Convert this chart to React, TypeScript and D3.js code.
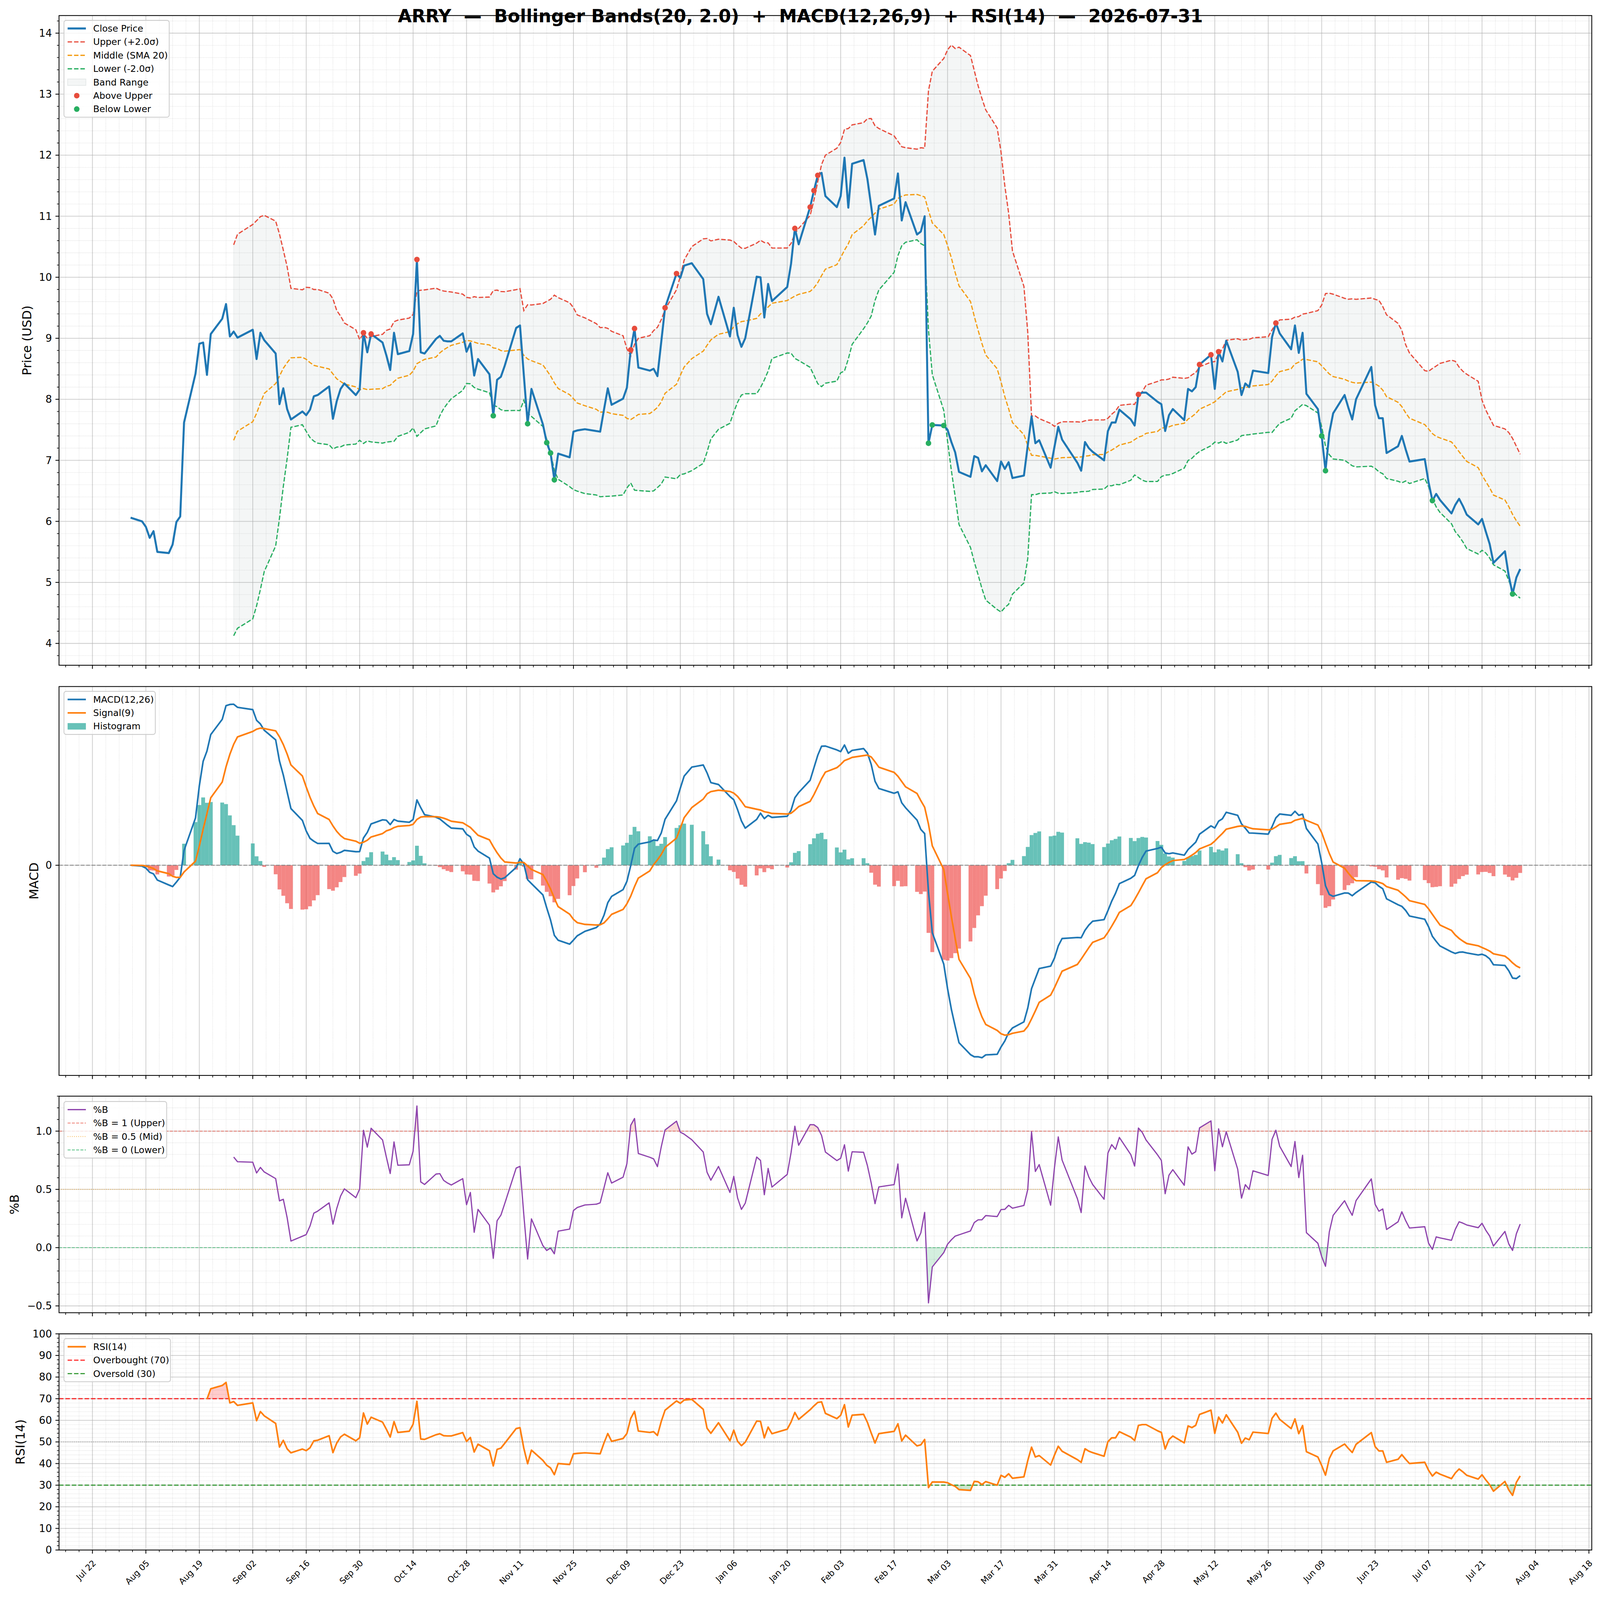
import React from 'react';
import * as d3 from 'd3';

// ---------------- data ----------------
const TICKER = 'ARRY';
const REPORT_DATE = '2026-07-31';

const MONTHS = ['2025-08', '2025-09', '2025-10', '2025-11', '2025-12', '2026-01', '2026-02', '2026-03', '2026-04', '2026-05', '2026-06', '2026-07'];

const TRADING_DAYS = [
  [1, 4, 5, 6, 7, 8, 11, 12, 13, 14, 15, 18, 19, 20, 21, 22, 25, 26, 27, 28, 29],
  [2, 3, 4, 5, 8, 9, 10, 11, 12, 15, 16, 17, 18, 19, 22, 23, 24, 25, 26, 29, 30],
  [1, 2, 3, 6, 7, 8, 9, 10, 13, 14, 15, 16, 17, 20, 21, 22, 23, 24, 27, 28, 29, 30, 31],
  [3, 4, 5, 6, 7, 10, 11, 12, 13, 14, 17, 18, 19, 20, 21, 24, 25, 26, 28],
  [1, 2, 3, 4, 5, 8, 9, 10, 11, 12, 15, 16, 17, 18, 19, 22, 23, 24, 26, 29, 30, 31],
  [2, 5, 6, 7, 8, 9, 12, 13, 14, 15, 16, 20, 21, 22, 23, 26, 27, 28, 29, 30],
  [2, 3, 4, 5, 6, 9, 10, 11, 12, 13, 17, 18, 19, 20, 23, 24, 25, 26, 27],
  [2, 3, 4, 5, 6, 9, 10, 11, 12, 13, 16, 17, 18, 19, 20, 23, 24, 25, 26, 27, 30, 31],
  [1, 2, 6, 7, 8, 9, 10, 13, 14, 15, 16, 17, 20, 21, 22, 23, 24, 27, 28, 29, 30],
  [1, 4, 5, 6, 7, 8, 11, 12, 13, 14, 15, 18, 19, 20, 21, 22, 26, 27, 28, 29],
  [1, 2, 3, 4, 5, 8, 9, 10, 11, 12, 15, 16, 17, 18, 22, 23, 24, 25, 26, 29, 30],
  [1, 2, 6, 7, 8, 9, 10, 13, 14, 15, 16, 17, 20, 21, 22, 23, 24, 27, 28, 29, 30, 31],
];

const CLOSE = [
  [6.06, 6.00, 5.91, 5.73, 5.84, 5.50, 5.48, 5.62, 5.99, 6.08, 7.62, 8.42, 8.91, 8.93, 8.40, 9.07, 9.32, 9.56, 9.03, 9.11, 9.01],
  [9.14, 8.66, 9.09, 8.97, 8.75, 7.92, 8.18, 7.84, 7.67, 7.80, 7.74, 7.83, 8.05, 8.07, 8.21, 7.68, 7.97, 8.17, 8.26, 8.07, 8.16],
  [9.09, 8.77, 9.07, 8.93, 8.72, 8.48, 9.09, 8.74, 8.79, 9.07, 10.29, 8.77, 8.75, 8.99, 9.04, 8.96, 8.95, 8.95, 9.08, 8.78, 8.92, 8.39, 8.66],
  [8.41, 7.73, 8.32, 8.37, 8.55, 9.17, 9.21, 8.40, 7.60, 8.17, 7.59, 7.29, 7.12, 6.68, 7.11, 7.05, 7.47, 7.49, 7.51],
  [7.48, 7.47, 7.83, 8.18, 7.91, 8.01, 8.19, 8.81, 9.16, 8.52, 8.47, 8.50, 8.38, 8.94, 9.50, 10.06, 9.99, 10.19, 10.23, 9.97, 9.40, 9.23],
  [9.68, 9.03, 9.50, 9.05, 8.86, 9.00, 10.01, 10.00, 9.34, 9.89, 9.61, 9.84, 10.22, 10.80, 10.54, 11.15, 11.42, 11.67, 11.71, 11.33],
  [11.15, 11.33, 11.96, 11.14, 11.86, 11.92, 11.61, 11.16, 10.70, 11.17, 11.29, 11.70, 10.93, 11.23, 10.70, 10.75, 11.00, 7.28, 7.58],
  [7.57, 7.50, 7.30, 7.13, 6.81, 6.73, 7.07, 7.04, 6.82, 6.92, 6.66, 6.98, 6.86, 6.97, 6.71, 6.75, 7.24, 7.72, 7.28, 7.33, 6.88, 7.22],
  [7.55, 7.34, 6.96, 6.83, 7.30, 7.20, 7.14, 7.00, 7.48, 7.62, 7.62, 7.83, 7.67, 7.57, 8.08, 8.11, 8.11, 7.96, 7.92, 7.48, 7.74],
  [7.84, 7.66, 8.17, 8.13, 8.20, 8.57, 8.73, 8.17, 8.78, 8.62, 8.96, 8.45, 8.07, 8.26, 8.20, 8.47, 8.43, 9.02, 9.25, 9.08],
  [8.82, 9.21, 8.76, 9.09, 8.09, 7.84, 7.40, 6.83, 7.45, 7.77, 8.07, 7.86, 7.67, 8.00, 8.53, 7.90, 7.69, 7.69, 7.12, 7.23, 7.40],
  [7.18, 6.98, 7.02, 6.64, 6.34, 6.45, 6.35, 6.13, 6.27, 6.37, 6.25, 6.11, 5.95, 6.04, 5.83, 5.63, 5.32, 5.51, 5.11, 4.81, 5.08, 5.22],
];

const BB_PERIOD = 20;
const BB_K = 2.0;
const MACD_FAST = 12;
const MACD_SLOW = 26;
const MACD_SIGNAL = 9;
const RSI_PERIOD = 14;
const X_TICK_ANCHOR = '2025-07-22';

// ---------------- indicators ----------------
const DAY = 864e5;
const addDays = (d: Date, n: number) => new Date(d.getTime() + n * DAY);

const DATES: Date[] = MONTHS.flatMap((m, i) =>
  TRADING_DAYS[i].map((day) => new Date(`${m}-${String(day).padStart(2, '0')}T00:00:00Z`))
);
const PRICE: number[] = CLOSE.flat();
const N = PRICE.length;
const IDX = d3.range(N);

const MID: (number | null)[] = IDX.map((i) => (i < BB_PERIOD - 1 ? null : (d3.mean(PRICE.slice(i - BB_PERIOD + 1, i + 1)) as number)));
const SD: (number | null)[] = IDX.map((i) => (i < BB_PERIOD - 1 ? null : (d3.deviation(PRICE.slice(i - BB_PERIOD + 1, i + 1)) as number)));
const UPPER = IDX.map((i) => (MID[i] == null ? null : (MID[i] as number) + BB_K * (SD[i] as number)));
const LOWER = IDX.map((i) => (MID[i] == null ? null : (MID[i] as number) - BB_K * (SD[i] as number)));
const PCTB = IDX.map((i) => (UPPER[i] == null ? null : (PRICE[i] - (LOWER[i] as number)) / ((UPPER[i] as number) - (LOWER[i] as number))));

function ema(v: number[], span: number) {
  const a = 2 / (span + 1);
  const out: number[] = [];
  v.forEach((x, i) => out.push(i === 0 ? x : a * x + (1 - a) * out[i - 1]));
  return out;
}
const EMA_F = ema(PRICE, MACD_FAST);
const EMA_S = ema(PRICE, MACD_SLOW);
const MACD = IDX.map((i) => EMA_F[i] - EMA_S[i]);
const SIGNAL = ema(MACD, MACD_SIGNAL);
const HIST = IDX.map((i) => MACD[i] - SIGNAL[i]);

function rsiWilder(v: number[], n: number) {
  const out: (number | null)[] = v.map(() => null);
  let ag = 0;
  let al = 0;
  for (let i = 1; i < v.length; i++) {
    const d = v[i] - v[i - 1];
    const g = Math.max(d, 0);
    const l = Math.max(-d, 0);
    if (i === 1) {
      ag = g;
      al = l;
    } else {
      ag += (g - ag) / n;
      al += (l - al) / n;
    }
    if (i >= n) out[i] = al === 0 ? 100 : 100 - 100 / (1 + ag / al);
  }
  return out;
}
const RSI = rsiWilder(PRICE, RSI_PERIOD);

// ---------------- layout ----------------
const W = 4378;
const H = 4322;
const L = 161.5;
const R = 4355.5;
const P_PRICE = { t: 42, b: 1797 };
const P_MACD = { t: 1854.5, b: 2905 };
const P_PB = { t: 2961, b: 3546 };
const P_RSI = { t: 3603, b: 4187 };
const FONT = "'DejaVu Sans', 'Liberation Sans', sans-serif";
const TICK_FS = 27.8;
const XTICK_FS = 23;
const LABEL_FS = 33.3;
const LEG_FS = 25;
const MAJ_LEN = 9.7;
const MIN_LEN = 5.6;

const dash = (lw: number) => `${3.7 * lw},${1.6 * lw}`;
const dot = (lw: number) => `${1 * lw},${1.65 * lw}`;

function padDomain(vals: number[]): [number, number] {
  const [mn, mx] = d3.extent(vals) as [number, number];
  const r = mx - mn;
  return [mn - 0.05 * r, mx + 0.05 * r];
}
const nn = (a: (number | null)[]) => a.filter((v) => v != null) as number[];

const spanDays = (DATES[N - 1].getTime() - DATES[0].getTime()) / DAY + 1;
const xMargin = 0.5 + 0.05 * spanDays;
const x = d3.scaleUtc().domain([addDays(DATES[0], -xMargin), addDays(DATES[N - 1], xMargin)]).range([L, R]);
const [xd0, xd1] = x.domain();
const anchor = new Date(`${X_TICK_ANCHOR}T00:00:00Z`);
const X_MAJOR = d3.range(-2, 40).map((k) => addDays(anchor, 14 * k)).filter((d) => d >= xd0 && d <= xd1);
const X_MINOR = d3.range(-8, 160).filter((k) => k % 4 !== 0).map((k) => addDays(anchor, 3.5 * k)).filter((d) => d >= xd0 && d <= xd1);
const fmtDate = d3.utcFormat('%b %d');

const yPrice = d3.scaleLinear().domain(padDomain([...PRICE, ...nn(UPPER), ...nn(LOWER)])).range([P_PRICE.b, P_PRICE.t]);
const yMacd = d3.scaleLinear().domain(padDomain([...MACD, ...SIGNAL, ...HIST, 0])).range([P_MACD.b, P_MACD.t]);
const yPb = d3.scaleLinear().domain(padDomain([...nn(PCTB), 0, 1])).range([P_PB.b, P_PB.t]);
const yRsi = d3.scaleLinear().domain([0, 100]).range([P_RSI.b, P_RSI.t]);

function ticksStep(scale: d3.ScaleLinear<number, number>, step: number, skipEvery = 0) {
  const [a, b] = scale.domain();
  const out: number[] = [];
  for (let k = Math.ceil(a / step - 1e-9); k * step <= b + 1e-9; k++) {
    if (skipEvery && k % skipEvery === 0) continue;
    const v = Math.abs(k * step) < 1e-9 ? 0 : k * step;
    out.push(v);
  }
  return out;
}

const seriesPath = (ys: (number | null)[], yS: d3.ScaleLinear<number, number>) =>
  d3
    .line<number>()
    .defined((i) => ys[i] != null)
    .x((i) => x(DATES[i]))
    .y((i) => yS(ys[i] as number))(IDX) || '';

const areaPath = (ys: (number | null)[], base: number, yS: d3.ScaleLinear<number, number>) =>
  d3
    .area<number>()
    .defined((i) => ys[i] != null)
    .x((i) => x(DATES[i]))
    .y0(yS(base))
    .y1((i) => yS(ys[i] as number))(IDX) || '';

function Grid({ p, y, yMajor, yMinor, grid }: any) {
  return (
    <g>
      {X_MINOR.map((d, i) => (
        <line key={'xm' + i} x1={x(d)} x2={x(d)} y1={p.t} y2={p.b} stroke="#c8c8c8" strokeOpacity={0.8} strokeWidth={1.4} strokeDasharray={dot(1.4)} />
      ))}
      {grid &&
        yMinor.map((v: number, i: number) => (
          <line key={'ym' + i} x1={L} x2={R} y1={y(v)} y2={y(v)} stroke="#c8c8c8" strokeOpacity={0.8} strokeWidth={1.4} strokeDasharray={dot(1.4)} />
        ))}
      {X_MAJOR.map((d, i) => (
        <line key={'xM' + i} x1={x(d)} x2={x(d)} y1={p.t} y2={p.b} stroke="#b0b0b0" strokeOpacity={0.6} strokeWidth={2.2} />
      ))}
      {yMajor.map((v: number, i: number) => (
        <line key={'yM' + i} x1={L} x2={R} y1={y(v)} y2={y(v)} stroke="#b0b0b0" strokeOpacity={0.6} strokeWidth={2.2} />
      ))}
    </g>
  );
}

function Frame({ p, y, yMajor, yMinor, fmt, xLabels, ylabel, ylabelX }: any) {
  return (
    <g>
      <rect x={L} y={p.t} width={R - L} height={p.b - p.t} fill="none" stroke="#000" strokeWidth={2.2} />
      {X_MAJOR.map((d, i) => (
        <line key={'tM' + i} x1={x(d)} x2={x(d)} y1={p.b} y2={p.b + MAJ_LEN} stroke="#000" strokeWidth={2.2} />
      ))}
      {X_MINOR.map((d, i) => (
        <line key={'tm' + i} x1={x(d)} x2={x(d)} y1={p.b} y2={p.b + MIN_LEN} stroke="#000" strokeWidth={1.7} />
      ))}
      {yMajor.map((v: number, i: number) => (
        <g key={'yt' + i}>
          <line x1={L - MAJ_LEN} x2={L} y1={y(v)} y2={y(v)} stroke="#000" strokeWidth={2.2} />
          <text x={L - MAJ_LEN - 9.7} y={y(v)} textAnchor="end" dominantBaseline="central" fontSize={TICK_FS} fontFamily={FONT}>
            {fmt(v)}
          </text>
        </g>
      ))}
      {yMinor.map((v: number, i: number) => (
        <line key={'ytm' + i} x1={L - MIN_LEN} x2={L} y1={y(v)} y2={y(v)} stroke="#000" strokeWidth={1.7} />
      ))}
      {xLabels &&
        X_MAJOR.map((d, i) => {
          const ex = x(d) + 11;
          const ey = p.b + 37;
          return (
            <text key={'xl' + i} x={ex} y={ey} textAnchor="end" fontSize={XTICK_FS} fontFamily={FONT} transform={`rotate(-45 ${ex} ${ey})`}>
              {fmtDate(d)}
            </text>
          );
        })}
      <text
        x={ylabelX}
        y={(p.t + p.b) / 2}
        textAnchor="middle"
        fontSize={LABEL_FS}
        fontFamily={FONT}
        transform={`rotate(-90 ${ylabelX} ${(p.t + p.b) / 2})`}
      >
        {ylabel}
      </text>
    </g>
  );
}

type LegItem = { label: string; kind: 'line' | 'patch' | 'dot'; color: string; lw?: number; dash?: string; opacity?: number; edge?: boolean };

function Legend({ x0, y0, w, items }: { x0: number; y0: number; w: number; items: LegItem[] }) {
  const pad = 10;
  const textH = 23.8;
  const rowH = 36.3;
  const h = 2 * pad + items.length * textH + (items.length - 1) * 12.5;
  return (
    <g>
      <rect x={x0} y={y0} width={w} height={h} rx={6} ry={6} fill="#fff" fillOpacity={0.8} stroke="#cccccc" strokeWidth={2.2} />
      {items.map((it, i) => {
        const cy = y0 + pad + textH / 2 + i * rowH;
        const hx = x0 + pad;
        let handle: any = null;
        if (it.kind === 'line')
          handle = <line x1={hx} x2={hx + 50} y1={cy} y2={cy} stroke={it.color} strokeWidth={it.lw} strokeOpacity={it.opacity ?? 1} strokeDasharray={it.dash} />;
        else if (it.kind === 'patch')
          handle = (
            <rect
              x={hx}
              y={cy - 8.75}
              width={50}
              height={17.5}
              fill={it.color}
              fillOpacity={it.opacity ?? 1}
              stroke={it.edge ? it.color : 'none'}
              strokeOpacity={it.edge ? 0.2 : 0}
              strokeWidth={2}
            />
          );
        else handle = <circle cx={hx + 25} cy={cy} r={7.6} fill={it.color} />;
        return (
          <g key={i}>
            {handle}
            <text x={x0 + 80} y={cy} dominantBaseline="central" fontSize={LEG_FS} fontFamily={FONT}>
              {it.label}
            </text>
          </g>
        );
      })}
    </g>
  );
}

const C_BLUE = '#1f77b4';
const C_ORANGE = '#ff7f0e';
const C_RED = '#e74c3c';
const C_GREEN = '#27ae60';
const C_MID = '#f39c12';
const C_BAND = '#95a5a6';
const C_PURPLE = '#8e44ad';
const C_HPOS = '#26a69a';
const C_HNEG = '#ef5350';

export default function App() {
  const priceMajor = ticksStep(yPrice, 1);
  const priceMinor = ticksStep(yPrice, 0.2, 5);
  const pbMajor = ticksStep(yPb, 0.5);
  const pbMinor = ticksStep(yPb, 0.1, 5);
  const rsiMajor = ticksStep(yRsi, 10);
  const rsiMinor = ticksStep(yRsi, 2, 5);
  const fmtPb = (v: number) => d3.format('.1f')(v).replace('-', '\u2212');

  const above = IDX.filter((i) => UPPER[i] != null && PRICE[i] > (UPPER[i] as number));
  const below = IDX.filter((i) => LOWER[i] != null && PRICE[i] < (LOWER[i] as number));

  const bandArea =
    d3
      .area<number>()
      .defined((i) => UPPER[i] != null)
      .x((i) => x(DATES[i]))
      .y0((i) => yPrice(LOWER[i] as number))
      .y1((i) => yPrice(UPPER[i] as number))(IDX) || '';

  const barW = x(addDays(DATES[0], 0.5)) - x(addDays(DATES[0], -0.5));

  const title = `${TICKER}  \u2014  Bollinger Bands(${BB_PERIOD}, ${BB_K.toFixed(1)})  +  MACD(${MACD_FAST},${MACD_SLOW},${MACD_SIGNAL})  +  RSI(${RSI_PERIOD})  \u2014  ${REPORT_DATE}`;

  return (
    <div style={{ position: 'fixed', left: 0, top: 0, width: '100vw', height: '100vh', overflow: 'hidden', background: '#fff' }}>
      <svg width="100%" height="100%" viewBox={`0 0 ${W} ${H}`} preserveAspectRatio="none" style={{ display: 'block', background: '#fff' }}>
        <defs>
          {[P_PRICE, P_MACD, P_PB, P_RSI].map((p, i) => (
            <clipPath id={'clip' + i} key={i}>
              <rect x={L} y={p.t} width={R - L} height={p.b - p.t} />
            </clipPath>
          ))}
          <clipPath id="pbHi">
            <rect x={L} y={P_PB.t} width={R - L} height={yPb(1) - P_PB.t} />
          </clipPath>
          <clipPath id="pbLo">
            <rect x={L} y={yPb(0)} width={R - L} height={P_PB.b - yPb(0)} />
          </clipPath>
          <clipPath id="rsiHi">
            <rect x={L} y={P_RSI.t} width={R - L} height={yRsi(70) - P_RSI.t} />
          </clipPath>
          <clipPath id="rsiLo">
            <rect x={L} y={yRsi(30)} width={R - L} height={P_RSI.b - yRsi(30)} />
          </clipPath>
        </defs>
        <rect x={0} y={0} width={W} height={H} fill="#fff" />

        {/* ---------- price panel ---------- */}
        <Grid p={P_PRICE} y={yPrice} yMajor={priceMajor} yMinor={priceMinor} grid />
        <g clipPath="url(#clip0)">
          <path d={bandArea} fill={C_BAND} fillOpacity={0.1} stroke={C_BAND} strokeOpacity={0.12} strokeWidth={2} />
          <path d={seriesPath(UPPER, yPrice)} fill="none" stroke={C_RED} strokeWidth={3.3} strokeDasharray={dash(3.3)} />
          <path d={seriesPath(MID, yPrice)} fill="none" stroke={C_MID} strokeWidth={3.3} strokeDasharray={dash(3.3)} />
          <path d={seriesPath(LOWER, yPrice)} fill="none" stroke={C_GREEN} strokeWidth={3.3} strokeDasharray={dash(3.3)} />
          <path d={seriesPath(PRICE, yPrice)} fill="none" stroke={C_BLUE} strokeWidth={5.5} strokeLinejoin="round" />
          {above.map((i) => (
            <circle key={'a' + i} cx={x(DATES[i])} cy={yPrice(PRICE[i])} r={7.6} fill={C_RED} />
          ))}
          {below.map((i) => (
            <circle key={'b' + i} cx={x(DATES[i])} cy={yPrice(PRICE[i])} r={7.6} fill={C_GREEN} />
          ))}
        </g>
        <Frame p={P_PRICE} y={yPrice} yMajor={priceMajor} yMinor={priceMinor} fmt={(v: number) => String(v)} ylabel="Price (USD)" ylabelX={85} />
        <Legend
          x0={175}
          y0={55}
          w={288}
          items={[
            { label: 'Close Price', kind: 'line', color: C_BLUE, lw: 5.5 },
            { label: 'Upper (+2.0\u03c3)', kind: 'line', color: C_RED, lw: 3.3, dash: dash(3.3) },
            { label: 'Middle (SMA 20)', kind: 'line', color: C_MID, lw: 3.3, dash: dash(3.3) },
            { label: 'Lower (-2.0\u03c3)', kind: 'line', color: C_GREEN, lw: 3.3, dash: dash(3.3) },
            { label: 'Band Range', kind: 'patch', color: C_BAND, opacity: 0.1, edge: true },
            { label: 'Above Upper', kind: 'dot', color: C_RED },
            { label: 'Below Lower', kind: 'dot', color: C_GREEN },
          ]}
        />

        {/* ---------- MACD panel ---------- */}
        <Grid p={P_MACD} y={yMacd} yMajor={[0]} yMinor={[]} />
        <g clipPath="url(#clip1)">
          {IDX.map((i) => {
            const h = HIST[i];
            const y0 = yMacd(Math.max(h, 0));
            const y1 = yMacd(Math.min(h, 0));
            return (
              <rect key={'h' + i} x={x(DATES[i]) - barW / 2} y={y0} width={barW} height={Math.max(y1 - y0, 0)} fill={h >= 0 ? C_HPOS : C_HNEG} fillOpacity={0.7} />
            );
          })}
          <line x1={L} x2={R} y1={yMacd(0)} y2={yMacd(0)} stroke="#808080" strokeOpacity={0.8} strokeWidth={2.8} strokeDasharray={dash(2.8)} />
          <path d={seriesPath(MACD, yMacd)} fill="none" stroke={C_BLUE} strokeWidth={4.4} strokeLinejoin="round" />
          <path d={seriesPath(SIGNAL, yMacd)} fill="none" stroke={C_ORANGE} strokeWidth={4.4} strokeLinejoin="round" />
        </g>
        <Frame p={P_MACD} y={yMacd} yMajor={[0]} yMinor={[]} fmt={(v: number) => String(v)} ylabel="MACD" ylabelX={105} />
        <Legend
          x0={175}
          y0={1867.5}
          w={250}
          items={[
            { label: 'MACD(12,26)', kind: 'line', color: C_BLUE, lw: 4.4 },
            { label: 'Signal(9)', kind: 'line', color: C_ORANGE, lw: 4.4 },
            { label: 'Histogram', kind: 'patch', color: C_HPOS, opacity: 0.7 },
          ]}
        />

        {/* ---------- %B panel ---------- */}
        <Grid p={P_PB} y={yPb} yMajor={pbMajor} yMinor={pbMinor} grid />
        <g clipPath="url(#clip2)">
          <g clipPath="url(#pbHi)">
            <path d={areaPath(PCTB, 1, yPb)} fill={C_RED} fillOpacity={0.2} />
          </g>
          <g clipPath="url(#pbLo)">
            <path d={areaPath(PCTB, 0, yPb)} fill={C_GREEN} fillOpacity={0.2} />
          </g>
          <line x1={L} x2={R} y1={yPb(1)} y2={yPb(1)} stroke={C_RED} strokeOpacity={0.7} strokeWidth={2.2} strokeDasharray={dash(2.2)} />
          <line x1={L} x2={R} y1={yPb(0.5)} y2={yPb(0.5)} stroke={C_MID} strokeOpacity={0.7} strokeWidth={2.2} strokeDasharray={dot(2.2)} />
          <line x1={L} x2={R} y1={yPb(0)} y2={yPb(0)} stroke={C_GREEN} strokeOpacity={0.7} strokeWidth={2.2} strokeDasharray={dash(2.2)} />
          <path d={seriesPath(PCTB, yPb)} fill="none" stroke={C_PURPLE} strokeWidth={3.3} strokeLinejoin="round" />
        </g>
        <Frame p={P_PB} y={yPb} yMajor={pbMajor} yMinor={pbMinor} fmt={fmtPb} ylabel="%B" ylabelX={51} />
        <Legend
          x0={175}
          y0={2975.5}
          w={281}
          items={[
            { label: '%B', kind: 'line', color: C_PURPLE, lw: 3.3 },
            { label: '%B = 1 (Upper)', kind: 'line', color: C_RED, lw: 2.2, dash: dash(2.2), opacity: 0.7 },
            { label: '%B = 0.5 (Mid)', kind: 'line', color: C_MID, lw: 2.2, dash: dot(2.2), opacity: 0.7 },
            { label: '%B = 0 (Lower)', kind: 'line', color: C_GREEN, lw: 2.2, dash: dash(2.2), opacity: 0.7 },
          ]}
        />

        {/* ---------- RSI panel ---------- */}
        <Grid p={P_RSI} y={yRsi} yMajor={rsiMajor} yMinor={rsiMinor} grid />
        <g clipPath="url(#clip3)">
          <g clipPath="url(#rsiHi)">
            <path d={areaPath(RSI, 70, yRsi)} fill="red" fillOpacity={0.2} />
          </g>
          <g clipPath="url(#rsiLo)">
            <path d={areaPath(RSI, 30, yRsi)} fill="green" fillOpacity={0.2} />
          </g>
          <line x1={L} x2={R} y1={yRsi(70)} y2={yRsi(70)} stroke="red" strokeOpacity={0.75} strokeWidth={3.3} strokeDasharray={dash(3.3)} />
          <line x1={L} x2={R} y1={yRsi(50)} y2={yRsi(50)} stroke="#808080" strokeOpacity={0.6} strokeWidth={2.2} strokeDasharray={dot(2.2)} />
          <line x1={L} x2={R} y1={yRsi(30)} y2={yRsi(30)} stroke="green" strokeOpacity={0.75} strokeWidth={3.3} strokeDasharray={dash(3.3)} />
          <path d={seriesPath(RSI, yRsi)} fill="none" stroke={C_ORANGE} strokeWidth={4.4} strokeLinejoin="round" />
        </g>
        <Frame p={P_RSI} y={yRsi} yMajor={rsiMajor} yMinor={rsiMinor} fmt={(v: number) => String(v)} xLabels ylabel="RSI(14)" ylabelX={67} />
        <Legend
          x0={175}
          y0={3616}
          w={291.5}
          items={[
            { label: 'RSI(14)', kind: 'line', color: C_ORANGE, lw: 4.4 },
            { label: 'Overbought (70)', kind: 'line', color: 'red', lw: 3.3, dash: dash(3.3), opacity: 0.75 },
            { label: 'Oversold (30)', kind: 'line', color: 'green', lw: 3.3, dash: dash(3.3), opacity: 0.75 },
          ]}
        />

        {/* ---------- title ---------- */}
        <text x={2190} y={60} textAnchor="middle" fontSize={49} fontWeight="bold" fontFamily={FONT} style={{ whiteSpace: 'pre' }}>
          {title}
        </text>
      </svg>
    </div>
  );
}
